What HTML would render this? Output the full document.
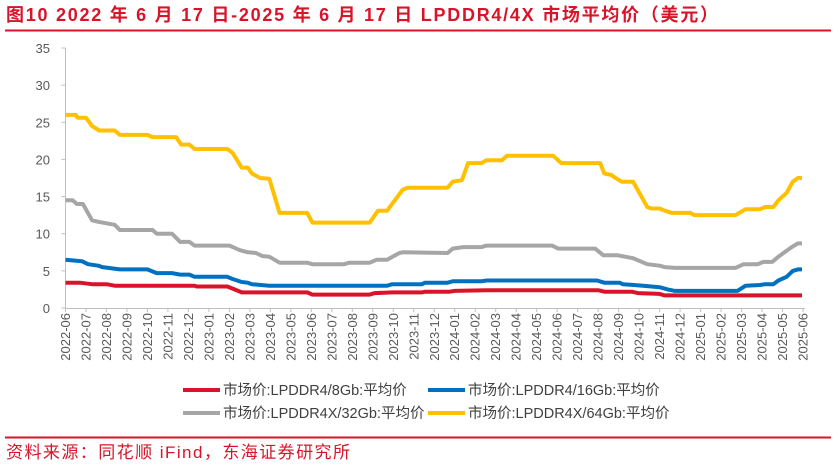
<!DOCTYPE html>
<html><head><meta charset="utf-8"><style>
body{margin:0;background:#fff;width:836px;height:464px;overflow:hidden;font-family:"Liberation Sans","Noto Sans CJK SC",sans-serif}
</style></head><body>
<svg id="c" width="836" height="464" xmlns="http://www.w3.org/2000/svg">
<text x="6" y="21" font-size="18" font-weight="bold" fill="#d9142a" textLength="712" lengthAdjust="spacing" font-family="Liberation Sans, Noto Sans CJK SC, sans-serif">图10  2022 年 6 月 17 日-2025 年 6 月 17 日 LPDDR4/4X 市场平均价（美元）</text>
<line x1="5" y1="30.5" x2="831" y2="30.5" stroke="#d9142a" stroke-width="2"/>
<g id="axes"></g>
<g id="series"></g>
<g id="legend"></g>
<line x1="5" y1="437.5" x2="831" y2="437.5" stroke="#d9142a" stroke-width="2"/>
<text x="6" y="458" font-size="17" fill="#d9142a" textLength="344" lengthAdjust="spacing" font-family="Liberation Sans, Noto Sans CJK SC, sans-serif">资料来源：同花顺 iFind，东海证券研究所</text>
</svg>
<script>
const monthLabels=["2022-06","2022-07","2022-08","2022-09","2022-10","2022-11","2022-12","2023-01","2023-02","2023-03","2023-04","2023-05","2023-06","2023-07","2023-08","2023-09","2023-10","2023-11","2023-12","2024-01","2024-02","2024-03","2024-04","2024-05","2024-06","2024-07","2024-08","2024-09","2024-10","2024-11","2024-12","2025-01","2025-02","2025-03","2025-04","2025-05","2025-06"];
const yTicks=[0,5,10,15,20,25,30,35];
const seriesNames=["市场价:LPDDR4/8Gb:平均价","市场价:LPDDR4/16Gb:平均价","市场价:LPDDR4X/32Gb:平均价","市场价:LPDDR4X/64Gb:平均价"];
const redT=[0,0.7,1.3,2.0,2.4,6.3,6.4,7.9,8.25,8.6,11.8,12.05,14.85,15.1,15.95,17.4,17.55,18.75,19.0,20.55,26.0,26.3,27.65,27.95,29.0,29.25,35.95];
const redV=[3.4,3.4,3.2,3.2,3.0,3.0,2.9,2.9,2.5,2.1,2.1,1.8,1.8,2.0,2.1,2.1,2.2,2.2,2.3,2.4,2.4,2.2,2.2,2.0,1.9,1.7,1.7];
const blueT=[0,0.8,1.1,1.6,1.8,2.65,4.0,4.45,5.2,5.6,6.05,6.3,7.9,8.15,8.6,8.9,9.1,9.95,15.7,15.95,17.4,17.55,18.65,18.9,20.3,20.55,25.95,26.3,27.05,27.2,28.2,29.0,29.4,29.75,32.8,33.2,33.9,34.15,34.55,34.8,35.2,35.5,35.75,35.95];
const blueV=[6.5,6.3,5.9,5.7,5.5,5.2,5.2,4.7,4.7,4.5,4.5,4.2,4.2,3.9,3.5,3.4,3.2,3.0,3.0,3.2,3.2,3.4,3.4,3.6,3.6,3.7,3.7,3.4,3.4,3.2,3.0,2.8,2.5,2.3,2.3,3.0,3.1,3.2,3.2,3.7,4.2,5.0,5.2,5.2];
const grayT=[0,0.35,0.55,0.85,1.3,1.6,2.0,2.4,2.65,4.25,4.45,5.2,5.6,6.05,6.3,8.0,8.5,8.9,9.3,9.6,9.95,10.45,11.8,12.05,13.6,13.85,14.85,15.2,15.7,16.3,16.45,18.65,18.9,19.4,20.3,20.55,23.75,24.05,25.85,26.25,26.95,27.7,28.4,29.0,29.25,29.75,32.7,33.1,33.8,34.05,34.5,34.8,35.2,35.45,35.75,35.95];
const grayV=[14.5,14.5,14.0,14.0,11.8,11.6,11.4,11.2,10.5,10.5,10.0,10.0,8.9,8.9,8.4,8.4,7.8,7.5,7.4,7.0,6.9,6.1,6.1,5.9,5.9,6.1,6.1,6.5,6.5,7.4,7.5,7.4,8.0,8.2,8.2,8.4,8.4,8.0,8.0,7.1,7.1,6.7,5.9,5.7,5.5,5.4,5.4,5.9,5.9,6.2,6.2,6.9,7.7,8.2,8.7,8.7];
const yellowT=[0,0.5,0.6,1.0,1.3,1.65,2.4,2.65,4.0,4.25,5.4,5.65,6.05,6.3,7.9,8.15,8.6,8.9,9.1,9.5,9.95,10.45,11.8,12.05,14.85,15.25,15.7,16.45,16.7,18.65,18.9,19.35,19.65,20.3,20.55,21.3,21.55,23.8,24.2,26.1,26.3,26.65,26.8,27.15,27.7,28.4,28.6,29.0,29.25,29.6,30.5,30.7,32.7,33.2,33.9,34.15,34.55,34.8,35.2,35.5,35.75,35.95];
const yellowV=[26.0,26.0,25.6,25.6,24.5,23.9,23.9,23.3,23.3,23.0,23.0,22.0,22.0,21.4,21.4,20.9,18.9,18.9,18.1,17.5,17.4,12.8,12.8,11.5,11.5,13.1,13.1,15.9,16.2,16.2,17.0,17.2,19.5,19.5,19.9,19.9,20.5,20.5,19.5,19.5,18.1,17.9,17.6,17.0,17.0,13.6,13.4,13.4,13.1,12.8,12.8,12.5,12.5,13.3,13.3,13.6,13.6,14.5,15.5,17.0,17.5,17.5];

const NS="http://www.w3.org/2000/svg";
const X0=65.5,X1=803,Y0=308,Y1=48,YMAX=35;
const xs=m=>X0+(X1-X0)*m/(monthLabels.length-1);
const ys=v=>Y0-(Y0-Y1)*v/YMAX;
function mk(tag,attrs,parent){const e=document.createElementNS(NS,tag);for(const k in attrs)e.setAttribute(k,attrs[k]);parent.appendChild(e);return e;}
const axes=document.getElementById('axes');
let yl=mk('line',{x1:X0,y1:Y1,x2:X0,y2:Y0,stroke:'#bfbfbf'},axes);


let xl=mk('line',{x1:X0,y1:Y0+0.5,x2:X1+2,y2:Y0+0.5,stroke:'#bfbfbf'},axes);


yTicks.forEach(v=>{
  mk('line',{x1:X0-4,y1:ys(v),x2:X0,y2:ys(v),stroke:'#bfbfbf'},axes);
  const t=mk('text',{x:50,y:ys(v)+5,'text-anchor':'end','font-size':13,fill:'#595959'},axes);
  t.textContent=v;
  
  
});
monthLabels.forEach((lab,i)=>{
  const x=xs(i);
  mk('line',{x1:x,y1:Y0,x2:x,y2:Y0+4,stroke:'#bfbfbf'},axes);
  const t=mk('text',{x:0,y:0,'text-anchor':'end','font-size':13,fill:'#595959',transform:`translate(${x+4.5},${Y0+5}) rotate(-90)`},axes);
  t.textContent=lab;
  
  
});
const sg=document.getElementById('series');
const colors=['#d9142a','#0070c0','#a6a6a6','#ffc000'];
const data=[[redT,redV],[blueT,blueV],[grayT,grayV],[yellowT,yellowV]];
const snames=['series-lpddr4-8gb','series-lpddr4-16gb','series-lpddr4x-32gb','series-lpddr4x-64gb'];
data.forEach(([T,V],k)=>{
  const d=T.map((t,i)=>(i?'L':'M')+xs(t).toFixed(1)+','+ys(V[i]).toFixed(1)).join('');
  const p=mk('path',{d:d,fill:'none',stroke:colors[k],'stroke-width':4,'stroke-linejoin':'round'},sg);
  
  
});
const lg=document.getElementById('legend');
const lpos=[[183,390],[428,390],[183,413],[428,413]];
seriesNames.forEach((n,k)=>{
  const [x,y]=lpos[k];
  const g=mk('g',{},lg);
  
  
  mk('line',{x1:x,y1:y,x2:x+37,y2:y,stroke:colors[k],'stroke-width':4},g);
  const t=mk('text',{x:x+40,y:y+5,'font-size':14.5,fill:'#404040'},g);
  t.textContent=n;
});
</script>
</body></html>
